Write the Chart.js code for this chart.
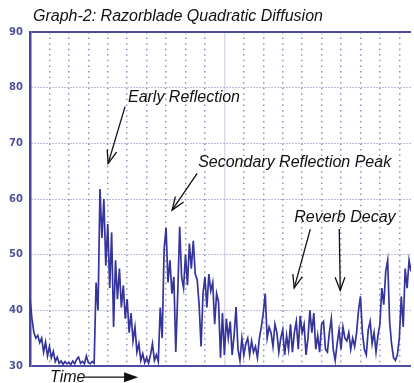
<!DOCTYPE html>
<html>
<head>
<meta charset="utf-8">
<script src="https://cdn.jsdelivr.net/npm/chart.js@4.4.1/dist/chart.umd.min.js"></script>
<style>
  html, body { margin: 0; padding: 0; background: #ffffff; }
  #wrap { width: 414px; height: 383px; position: relative; }
</style>
</head>
<body>
<div id="wrap"><canvas id="graph"></canvas></div>
<script>
// Impulse response level (dB), one sample per time step
const levelDb = [
  42, 38.5, 36, 35, 35.5, 34.2, 35, 32.5, 34.3, 31.8,
  33.5, 31.5, 32.6, 30.8, 31.6, 30.5, 30.9, 30.3, 30.8, 30.4,
  30.6, 30.3, 30.9, 30.4, 31.2, 31.6, 30.5, 30.8, 30.4, 31.8,
  30.6, 30.4, 30.8, 30.5, 45, 40, 61.8, 53, 60, 48,
  55.5, 44, 54, 37, 49, 42, 47.5, 40.5, 44.5, 38.5,
  42, 36, 39.5, 34.5, 37, 32.5, 34, 31, 32.2, 30.6,
  31.5, 30.5, 32, 34, 31, 32, 30.8, 40.5, 35, 51,
  54.8, 45, 49, 43, 46, 32.5, 43, 55, 46, 44,
  50, 44.5, 52, 47.5, 52.5, 46.5, 45.5, 41, 33.5, 43,
  46, 40.5, 46.5, 43.5, 45, 37.5, 43, 41.5, 31.5, 39.5,
  32, 38.5, 35, 38, 32, 35.5, 40.6, 33, 31, 35,
  32, 34, 35, 32, 34.5, 32.5, 33.5, 31.5, 35, 37,
  39.5, 43, 35, 37, 36, 33.5, 37.5, 36, 32.5, 35,
  36.5, 32, 35.5, 33, 37.5, 32.5, 36, 38, 33, 39,
  36, 37.5, 32, 35, 40, 36, 39.5, 33, 35.5, 32.5,
  37.5, 38, 33, 32.5, 36, 38.5, 33, 31, 34, 36.5,
  33, 37, 35, 34.5, 36, 33, 35, 33.5, 36, 40,
  42.5, 36, 33, 32, 36.5, 38, 34, 36, 32.5, 35.5,
  37.5, 44, 41, 47, 49, 38, 34, 31.5, 31, 32,
  35, 42.5, 37, 47.5, 44, 49, 47
];

// Level axis tick labels (dB)
const levelTicks = [30, 40, 50, 60, 70, 80, 90];

const titleText = 'Graph-2: Razorblade Quadratic Diffusion';

// Callouts, positioned in data units (time step, dB)
const callouts = [
  { text: 'Early Reflection', at: [50.4, 77.4],
    arrows: [{ from: [48.9, 76.6], to: [40.2, 66.4] }] },
  { text: 'Secondary Reflection Peak', at: [86.5, 65.7],
    arrows: [{ from: [86.0, 64.6], to: [73.1, 58.0] }] },
  { text: 'Reverb Decay', at: [135.9, 55.85],
    arrows: [{ from: [144.2, 54.6], to: [135.9, 44.0] },
             { from: [159.1, 54.6], to: [159.6, 43.6] }] }
];
const timeLabel = { text: 'Time', at: [10.3, 27.1], arrowFrom: [28.3, 28.0], arrowTo: [55.6, 28.0] };

const ink = '#34349c';
const gridInk = '#7c7cb4';

const annotate = {
  id: 'annotate',
  afterDraw(chart) {
    const { ctx } = chart;
    const xs = chart.scales.x, ys = chart.scales.y;
    const px = p => [xs.getPixelForValue(p[0]), ys.getPixelForValue(p[1])];
    ctx.save();
    ctx.fillStyle = '#111111';
    ctx.strokeStyle = '#111111';
    ctx.textBaseline = 'alphabetic';
    ctx.textAlign = 'left';
    ctx.font = 'italic 16px "Liberation Sans", Arial, sans-serif';
    ctx.fillText(titleText, 33, 21);

    const vArrow = (a, b) => {
      ctx.lineWidth = 1.3;
      ctx.beginPath();
      ctx.moveTo(a[0], a[1]);
      ctx.lineTo(b[0], b[1]);
      ctx.stroke();
      const ang = Math.atan2(b[1] - a[1], b[0] - a[0]);
      const len = 14, spread = 0.36;
      ctx.beginPath();
      ctx.moveTo(b[0] - len * Math.cos(ang - spread), b[1] - len * Math.sin(ang - spread));
      ctx.lineTo(b[0], b[1]);
      ctx.lineTo(b[0] - len * Math.cos(ang + spread), b[1] - len * Math.sin(ang + spread));
      ctx.stroke();
    };

    callouts.forEach(c => {
      const p = px(c.at);
      ctx.fillText(c.text, p[0], p[1]);
      c.arrows.forEach(ar => vArrow(px(ar.from), px(ar.to)));
    });

    const tp = px(timeLabel.at);
    ctx.fillText(timeLabel.text, tp[0], tp[1]);
    const a = px(timeLabel.arrowFrom), b = px(timeLabel.arrowTo);
    ctx.lineWidth = 1.3;
    ctx.beginPath();
    ctx.moveTo(a[0], a[1]);
    ctx.lineTo(b[0] - 10, b[1]);
    ctx.stroke();
    ctx.beginPath();
    ctx.moveTo(b[0], b[1]);
    ctx.lineTo(b[0] - 14, b[1] - 5);
    ctx.lineTo(b[0] - 14, b[1] + 5);
    ctx.closePath();
    ctx.fill();
    ctx.restore();
  }
};

new Chart(document.getElementById('graph'), {
  type: 'line',
  data: {
    datasets: [{
      data: levelDb.map((v, i) => ({ x: i, y: v })),
      borderColor: ink,
      borderWidth: 1.7,
      pointRadius: 0,
      tension: 0,
      fill: false
    }]
  },
  options: {
    responsive: true,
    maintainAspectRatio: false,
    animation: false,
    layout: { padding: { left: 0, top: 32, right: 3, bottom: 17 } },
    plugins: { legend: { display: false }, tooltip: { enabled: false }, title: { display: false } },
    scales: {
      x: {
        type: 'linear',
        min: 0,
        max: 196,
        ticks: { display: false, stepSize: 10, includeBounds: false },
        grid: {
          drawTicks: false,
          color: c => c.tick && c.tick.value === 100 ? '#dcdcec' : '#9090c0',
          lineWidth: c => c.tick && c.tick.value === 0 ? 0 : 1.5
        },
        border: {
          display: false,
          dash: c => c.tick && c.tick.value === 100 ? [] : [1.5, 4.07]
        },
        afterFit(scale) { scale.height = 0; }
      },
      y: {
        min: 30,
        max: 90,
        afterBuildTicks(scale) { scale.ticks = levelTicks.map(v => ({ value: v })); },
        ticks: {
          padding: 7,
          color: '#50509a',
          font: { family: '"DejaVu Sans", sans-serif', size: 10, weight: 'bold' }
        },
        grid: {
          drawTicks: false,
          color: c => (c.tick && (c.tick.value === 30 || c.tick.value === 90)) ? '#4c4ca0' : gridInk,
          lineWidth: c => (c.tick && (c.tick.value === 30 || c.tick.value === 90)) ? 2 : 1
        },
        border: {
          display: true,
          color: '#4646a0',
          width: 2.5,
          dash: c => (c.tick && (c.tick.value === 30 || c.tick.value === 90)) ? [] : [1, 2]
        },
        afterFit(scale) { scale.width = 30; }
      }
    }
  },
  plugins: [annotate]
});
</script>
</body>
</html>
